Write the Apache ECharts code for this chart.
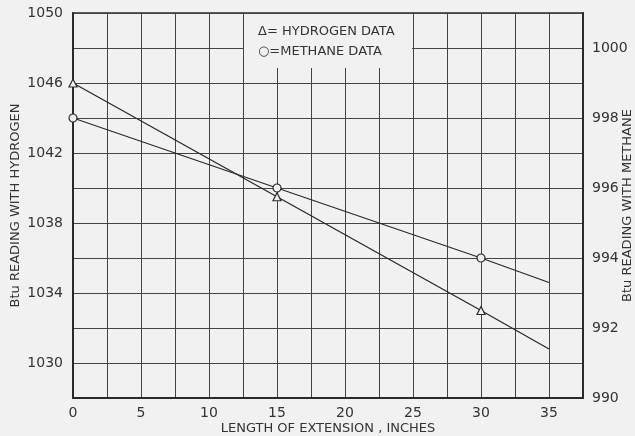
<!DOCTYPE html>
<html>
<head>
  <meta charset="UTF-8">
  <title>Btu reading vs length of extension</title>
  <script src="https://cdn.jsdelivr.net/npm/echarts@6/dist/echarts.min.js"></script>
  <style>
    html, body { margin: 0; padding: 0; background: #f1f1f1; }
    #main { width: 635px; height: 436px; }
  </style>
</head>
<body>
<div id="main"></div>
<script>
  // measured points (inches of extension)
  var extensionInches = [0, 15, 30];
  var hydrogenBtu = [1046, 1039.5, 1033];
  var methaneBtu = [998, 996, 994];
  // the fitted lines run on to 35 in.
  var lineEndInches = 35;
  var hydrogenEnd = 1030.8;
  var methaneEnd = 993.3;

  var ink = '#2a2a2a';
  var bg = '#f1f1f1';
  var font = 'DejaVu Sans';

  function pairs(xs, ys, endX, endY) {
    var out = xs.map(function (x, i) { return [x, ys[i]]; });
    out.push([endX, endY]);
    return out;
  }

  var chart = echarts.init(document.getElementById('main'));
  chart.setOption({
    backgroundColor: bg,
    animation: false,
    grid: {
      left: 73, right: 52, top: 13, bottom: 38,
      outerBoundsMode: 'none', containLabel: false,
      show: true, borderColor: ink, borderWidth: 1.5, backgroundColor: 'transparent'
    },
    xAxis: {
      type: 'value', min: 0, max: 37.5, interval: 2.5,
      name: 'LENGTH OF EXTENSION , INCHES', nameLocation: 'middle', nameGap: 24,
      nameMoveOverlap: false,
      nameTextStyle: { fontFamily: font, fontSize: 13, color: '#333' },
      axisLine: { show: true, lineStyle: { color: ink, width: 2 } },
      axisTick: { show: false },
      axisLabel: {
        fontFamily: font, fontSize: 14, color: '#333', margin: 8,
        formatter: function (v) { return (v % 5 === 0 && v <= 35) ? String(v) : ''; }
      },
      splitLine: { show: true, lineStyle: { color: '#444', width: 1 } }
    },
    yAxis: [{
      type: 'value', min: 1028, max: 1050, interval: 2,
      name: 'Btu READING WITH HYDROGEN', nameLocation: 'middle', nameGap: 51,
      nameMoveOverlap: false,
      nameTextStyle: { fontFamily: font, fontSize: 13, color: '#333' },
      axisLine: { show: true, lineStyle: { color: ink, width: 2 } },
      axisTick: { show: false },
      axisLabel: {
        fontFamily: font, fontSize: 14, color: '#333', margin: 10,
        formatter: function (v) { return ((v - 1030) % 4 === 0) ? String(v) : ''; }
      },
      splitLine: { show: true, lineStyle: { color: '#444', width: 1 } }
    }, {
      type: 'value', min: 990, max: 1001, interval: 2, position: 'right',
      name: 'Btu READING WITH METHANE', nameLocation: 'middle', nameGap: 38, nameRotate: 90,
      nameMoveOverlap: false,
      nameTextStyle: { fontFamily: font, fontSize: 13, color: '#333' },
      axisLine: { show: true, lineStyle: { color: ink, width: 2 } },
      axisTick: { show: false },
      axisLabel: {
        fontFamily: font, fontSize: 14, color: '#333', margin: 9,
        formatter: function (v) { return v <= 1000 ? String(v) : ''; }
      },
      splitLine: { show: false }
    }],
    series: [{
      name: 'HYDROGEN DATA', type: 'line', yAxisIndex: 0,
      data: pairs(extensionInches, hydrogenBtu, lineEndInches, hydrogenEnd),
      symbol: function (v, p) { return p.dataIndex < extensionInches.length ? 'triangle' : 'none'; },
      symbolSize: 8,
      lineStyle: { color: ink, width: 1.3 },
      itemStyle: { color: bg, borderColor: ink, borderWidth: 1.2 },
      z: 5
    }, {
      name: 'METHANE DATA', type: 'line', yAxisIndex: 1,
      data: pairs(extensionInches, methaneBtu, lineEndInches, methaneEnd),
      symbol: function (v, p) { return p.dataIndex < extensionInches.length ? 'circle' : 'none'; },
      symbolSize: 8,
      lineStyle: { color: ink, width: 1.3 },
      itemStyle: { color: bg, borderColor: ink, borderWidth: 1.2 },
      z: 5
    }],
    graphic: [{
      type: 'rect', z: 10,
      shape: { x: 244, y: 14, width: 168, height: 54 },
      style: { fill: bg }
    }, {
      type: 'text', z: 11, left: 258, top: 25,
      style: { text: '\u0394= HYDROGEN DATA', font: '13px "DejaVu Sans"', fill: '#333' }
    }, {
      type: 'text', z: 11, left: 258, top: 45,
      style: { text: '\u25CB=METHANE DATA', font: '13px "DejaVu Sans"', fill: '#333' }
    }]
  });
</script>
</body>
</html>
